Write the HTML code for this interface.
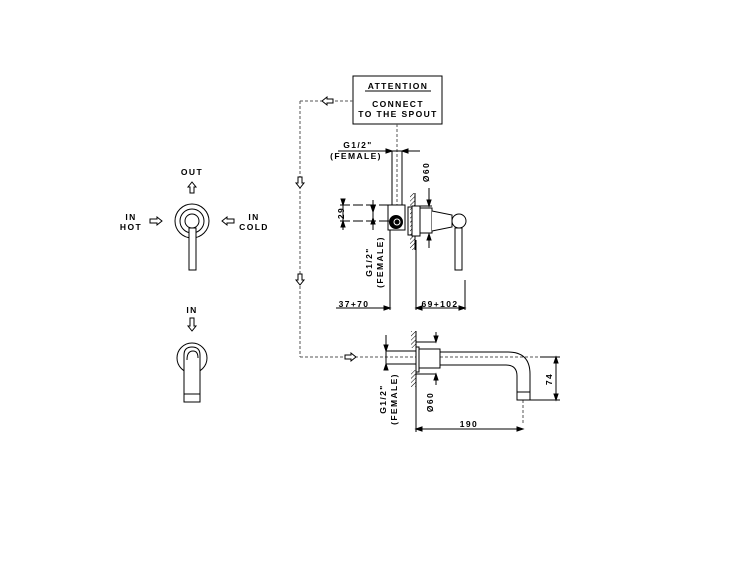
<!DOCTYPE html>
<html><head><style>html,body{margin:0;padding:0;background:#fff}svg{display:block}
text{font-family:"Liberation Sans",sans-serif;font-weight:bold;font-size:8.5px;fill:#000;letter-spacing:1.4px}</style></head>
<body>
<svg width="750" height="563" viewBox="0 0 750 563" xmlns="http://www.w3.org/2000/svg">
<defs>
<pattern id="h" width="3" height="3" patternUnits="userSpaceOnUse" patternTransform="rotate(45)"><line x1="0" y1="0" x2="0" y2="3" stroke="#000" stroke-width="1"/></pattern>
</defs>
<g fill="none" stroke="#000" stroke-width="1">
<rect x="353" y="76" width="89" height="48"/>
<line x1="365" y1="91" x2="431" y2="91"/>
<g stroke-dasharray="3,2" stroke="#555">
<line x1="353" y1="101" x2="300" y2="101"/>
<line x1="300" y1="101" x2="300" y2="357"/>
<line x1="300" y1="357" x2="560" y2="357"/>
<line x1="397" y1="124" x2="397" y2="218"/>
<line x1="523" y1="400" x2="523" y2="425"/>
</g>
<path d="M322 101 l5 -4 v2 h6 v4 h-6 v2 z" fill="#fff"/>
<path d="M300 188 l-4 -5 h2 v-6 h4 v6 h2 z" fill="#fff"/>
<path d="M300 285 l-4 -5 h2 v-6 h4 v6 h2 z" fill="#fff"/>
<path d="M356 357 l-5 -4 v2 h-6 v4 h6 v2 z" fill="#fff"/>
<line x1="338" y1="151" x2="420" y2="151"/>
<path d="M392 151 l-6 -2 v4 z M402 151 l6 -2 v4 z" fill="#000"/>
<line x1="392" y1="151" x2="392" y2="205"/>
<line x1="402" y1="151" x2="402" y2="205"/>
<rect x="388" y="205" width="17" height="25" fill="#fff"/>
<circle cx="396" cy="222" r="6.5" fill="#000"/>
<circle cx="397" cy="222" r="3" stroke="#fff"/>
<rect x="410" y="193" width="5" height="57" fill="url(#h)" stroke="none"/>
<line x1="415" y1="193" x2="415" y2="250"/>
<rect x="408" y="207" width="4" height="28"/>
<rect x="412" y="206" width="8" height="30" fill="#fff"/>
<rect x="420" y="208" width="12" height="25" fill="#fff"/>
<path d="M432 211 L452 215 L452 227 L432 231" fill="#fff"/>
<circle cx="459" cy="221" r="7" fill="#fff"/>
<rect x="455" y="228" width="7" height="42" fill="#fff"/>
<line x1="343" y1="200" x2="343" y2="230"/>
<line x1="340" y1="205" x2="395" y2="205" stroke-dasharray="10,3"/>
<line x1="340" y1="221" x2="392" y2="221" stroke-dasharray="10,3"/>
<path d="M343 205 l-2 -6 h4 z M343 221 l-2 6 h4 z" fill="#000"/>
<line x1="373" y1="200" x2="373" y2="230"/>
<path d="M373 212 l-2 -6 h4 z M373 218 l-2 6 h4 z" fill="#000"/>
<line x1="429" y1="188" x2="429" y2="206"/>
<line x1="420" y1="206" x2="432" y2="206"/>
<path d="M429 206 l-2 -6 h4 z" fill="#000"/>
<line x1="429" y1="234" x2="429" y2="248"/>
<path d="M429 234 l-2 6 h4 z" fill="#000"/>
<line x1="390" y1="230" x2="390" y2="310"/>
<line x1="416" y1="240" x2="416" y2="310"/>
<line x1="465" y1="280" x2="465" y2="310"/>
<line x1="336" y1="308" x2="390" y2="308"/>
<line x1="416" y1="308" x2="465" y2="308"/>
<path d="M390 308 l-6 -2 v4 z M416 308 l6 -2 v4 z M465 308 l-6 -2 v4 z" fill="#000"/>
<rect x="411" y="331" width="5" height="17" fill="url(#h)" stroke="none"/>
<rect x="411" y="370" width="5" height="17" fill="url(#h)" stroke="none"/>
<line x1="416" y1="331" x2="416" y2="432"/>
<rect x="416" y="347" width="3" height="25" fill="#fff"/>
<rect x="419" y="349" width="21" height="19" fill="#fff"/>
<path d="M440 352 H508 Q530 352 530 374 V392 M440 365 H506 Q517 365 517 376 V392"/>
<rect x="517" y="392" width="13" height="8"/>
<line x1="416" y1="342" x2="436" y2="342"/>
<line x1="436" y1="332" x2="436" y2="342"/>
<path d="M436 342 l-2 -6 h4 z" fill="#000"/>
<line x1="416" y1="374" x2="436" y2="374"/>
<line x1="436" y1="374" x2="436" y2="385"/>
<path d="M436 374 l-2 6 h4 z" fill="#000"/>
<line x1="386" y1="335" x2="386" y2="370"/>
<line x1="386" y1="351" x2="416" y2="351"/>
<line x1="386" y1="364" x2="416" y2="364"/>
<path d="M386 351 l-2 -6 h4 z M386 364 l-2 6 h4 z" fill="#000"/>
<line x1="540" y1="357" x2="560" y2="357"/>
<line x1="530" y1="400" x2="560" y2="400"/>
<line x1="556" y1="357" x2="556" y2="400"/>
<path d="M556 357 l-2 6 h4 z M556 400 l-2 -6 h4 z" fill="#000"/>
<line x1="416" y1="429" x2="523" y2="429"/>
<path d="M416 429 l6 -2 v4 z M523 429 l-6 -2 v4 z" fill="#000"/>
<circle cx="192" cy="221" r="17"/>
<circle cx="192" cy="221" r="12"/>
<circle cx="192" cy="221" r="7"/>
<rect x="189" y="228" width="7" height="42" fill="#fff"/>
<path d="M192 182 l-4 5 h2 v6 h4 v-6 h2 z" fill="#fff"/>
<path d="M162 221 l-5 -4 v2 h-7 v4 h7 v2 z" fill="#fff"/>
<path d="M222 221 l5 -4 v2 h7 v4 h-7 v2 z" fill="#fff"/>
<path d="M192 331 l-4 -5 h2 v-8 h4 v8 h2 z" fill="#fff"/>
<circle cx="192" cy="358" r="15"/>
<path d="M184 402 V355 Q184 347 192 347 Q200 347 200 355 V402 Z" fill="#fff"/>
<path d="M187 360 Q187 351 193 351 Q198 351 198 358"/>
<line x1="184" y1="394" x2="200" y2="394"/>
</g>
<text x="398" y="89" text-anchor="middle">ATTENTION</text>
<text x="398" y="107" text-anchor="middle">CONNECT</text>
<text x="398" y="117" text-anchor="middle">TO THE SPOUT</text>
<text x="358" y="148" text-anchor="middle">G1/2"</text>
<text x="356" y="159" text-anchor="middle">(FEMALE)</text>
<text x="354" y="307" text-anchor="middle">37+70</text>
<text x="440" y="307" text-anchor="middle">69+102</text>
<text x="469" y="427" text-anchor="middle">190</text>
<text transform="translate(344,213) rotate(-90)" text-anchor="middle">29</text>
<text transform="translate(429,172) rotate(-90)" text-anchor="middle">Ø60</text>
<text transform="translate(372,262) rotate(-90)" text-anchor="middle">G1/2"</text>
<text transform="translate(383,262) rotate(-90)" text-anchor="middle">(FEMALE)</text>
<text transform="translate(433,402) rotate(-90)" text-anchor="middle">Ø60</text>
<text transform="translate(386,399) rotate(-90)" text-anchor="middle">G1/2"</text>
<text transform="translate(397,399) rotate(-90)" text-anchor="middle">(FEMALE)</text>
<text transform="translate(552,379) rotate(-90)" text-anchor="middle">74</text>
<text x="192" y="175" text-anchor="middle">OUT</text>
<text x="131" y="220" text-anchor="middle">IN</text>
<text x="131" y="230" text-anchor="middle">HOT</text>
<text x="254" y="220" text-anchor="middle">IN</text>
<text x="254" y="230" text-anchor="middle">COLD</text>
<text x="192" y="313" text-anchor="middle">IN</text>
</svg>
</body></html>
